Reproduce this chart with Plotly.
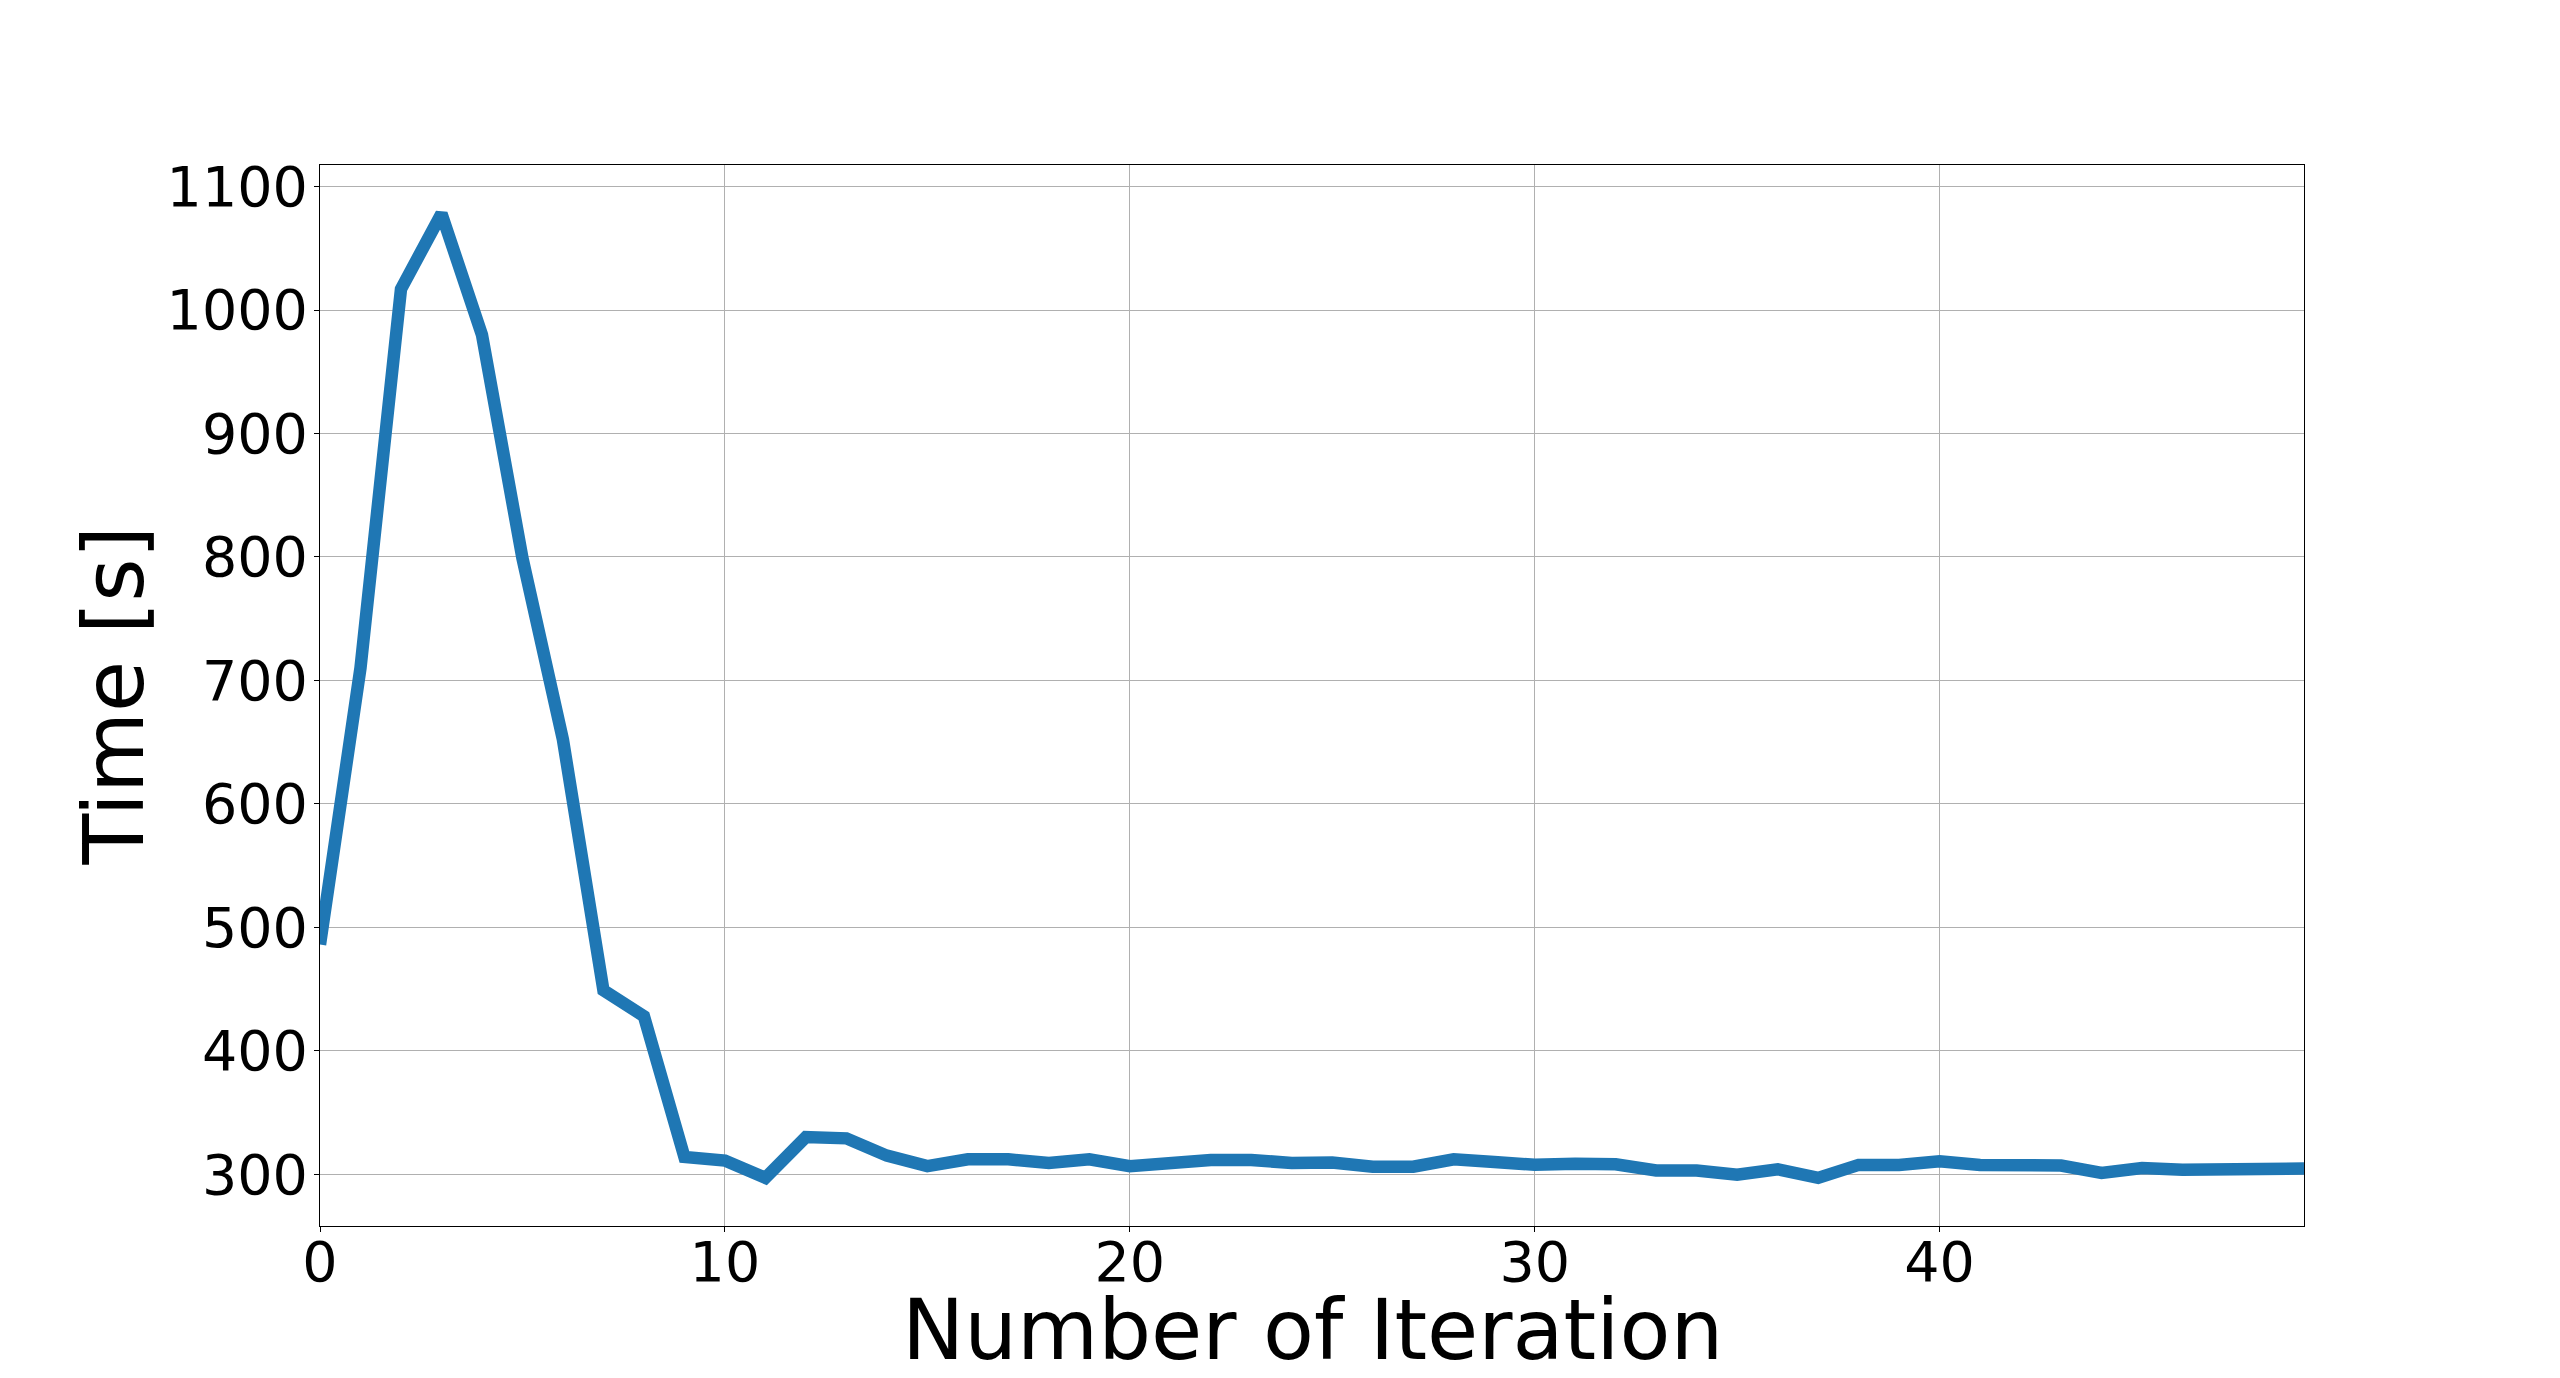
import plotly.graph_objects as go

iterations = list(range(50))
time_s = [486, 710, 1017, 1078, 980, 799, 652, 449, 428, 314,
          311, 297, 330, 329, 315, 306.5, 312, 312, 309, 312,
          306.5, 310, 311.5, 311.5, 309, 309.5, 306, 306, 312, 309.8,
          307.6, 308.5, 308, 303, 303, 299.5, 304, 297, 307.5, 307.5,
          310.5, 307.5, 308.5, 307, 301, 305, 303.5, 303.5, 303.5, 304.5]

x_ticks = [0, 10, 20, 30, 40]
y_ticks = [300, 400, 500, 600, 700, 800, 900, 1000, 1100]
x_title = "Number of Iteration"
y_title = "Time [s]"

FONT = "DejaVu Sans"

fig = go.Figure()
fig.add_trace(go.Scatter(
    x=iterations, y=time_s, mode="lines",
    line=dict(color="#1f77b4", width=12.5),
    showlegend=False,
))

axis_common = dict(
    showline=True, mirror=True, linecolor="black", linewidth=1.1,
    ticks="outside", ticklen=5, tickwidth=1.1, tickcolor="black",
    showgrid=True, gridcolor="#b0b0b0", gridwidth=1.1,
    zeroline=False,
    tickfont=dict(family=FONT, size=55.5, color="black"),
)

fig.update_layout(
    width=2544, height=1362,
    margin=dict(l=312, r=248, t=157, b=144, autoexpand=False),
    paper_bgcolor="white", plot_bgcolor="white",
    font=dict(family=FONT, color="black"),
    xaxis=dict(range=[0, 49], tickvals=x_ticks, ticklabelstandoff=-18, **axis_common),
    yaxis=dict(range=[258, 1117.5], tickvals=y_ticks, ticklabelstandoff=-5, **axis_common),
    annotations=[
        dict(text=x_title, xref="paper", yref="paper", x=0.5, y=0,
             xanchor="center", yanchor="middle", yshift=-104, showarrow=False,
             font=dict(family=FONT, size=83.3, color="black")),
        dict(text=y_title, xref="paper", yref="paper", x=0, y=0.5,
             xanchor="center", yanchor="middle", xshift=-206, textangle=-90,
             showarrow=False, font=dict(family=FONT, size=83.3, color="black")),
    ],
)

fig.write_html("out.html")
